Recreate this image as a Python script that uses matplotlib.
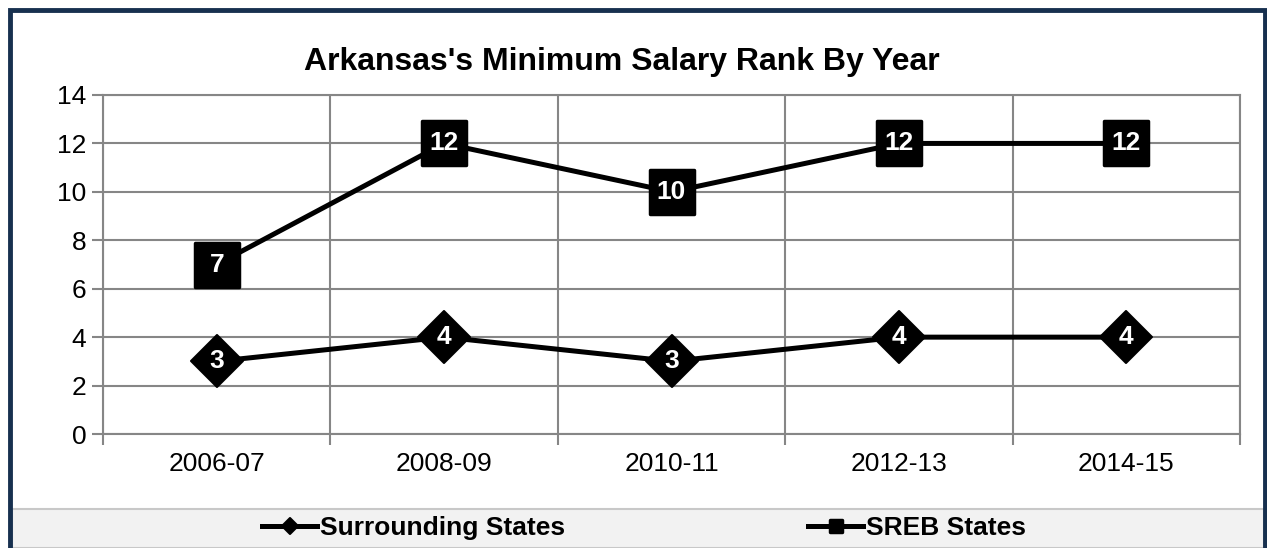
import matplotlib
matplotlib.use("Agg")
import matplotlib.pyplot as plt
from matplotlib.markers import MarkerStyle
from matplotlib.patches import Rectangle
from matplotlib.ticker import FixedLocator

plt.rcParams['font.family'] = ['Liberation Sans', 'DejaVu Sans']

years = ["2006-07", "2008-09", "2010-11", "2012-13", "2014-15"]
surrounding = [3, 4, 3, 4, 4]
sreb = [7, 12, 10, 12, 12]
yticks = [0, 2, 4, 6, 8, 10, 12, 14]

grid_c = '#868686'
navy = '#17304f'

fig = plt.figure(figsize=(12.67, 5.48), dpi=100)
ax = fig.add_axes([103 / 1267, 1 - 434 / 548, (1240 - 103) / 1267, (434 - 95) / 548])

x = list(range(len(years)))
diamond = MarkerStyle('D', joinstyle='round')
square = MarkerStyle('s', joinstyle='round')
ax.plot(x, surrounding, color='black', lw=3.6, marker=diamond, ms=26,
        mfc='black', mec='black', mew=1.5, label='Surrounding States', zorder=3)
ax.plot(x, sreb, color='black', lw=3.6, marker=square, ms=31,
        mfc='black', mec='black', mew=2.5, label='SREB States', zorder=3)

for xi, v in zip(x, surrounding):
    ax.text(xi, v, str(v), color='white', fontsize=19, fontweight='bold',
            ha='center', va='center', zorder=4)
for xi, v in zip(x, sreb):
    ax.text(xi, v, str(v), color='white', fontsize=19, fontweight='bold',
            ha='center', va='center', zorder=4)

ax.set_xlim(-0.5, len(years) - 0.5)
ax.set_ylim(0, 14)
ax.set_yticks(yticks)
ax.set_xticks(x)
ax.set_xticklabels(years)
ax.xaxis.set_minor_locator(FixedLocator([i - 0.5 for i in range(len(years) + 1)]))
ax.tick_params(axis='x', which='major', length=0, labelsize=19, pad=13)
ax.tick_params(axis='x', which='minor', length=8, width=1.5, color=grid_c, direction='out')
ax.tick_params(axis='y', length=8, width=1.5, color=grid_c, labelsize=19, pad=4)
ax.grid(True, axis='y', which='major', color=grid_c, lw=1.5)
ax.grid(True, axis='x', which='minor', color=grid_c, lw=1.5)
ax.set_axisbelow(True)
for s in ax.spines.values():
    s.set_color(grid_c)
    s.set_linewidth(1.5)

fig.text(622 / 1267, 1 - 62 / 548, "Arkansas's Minimum Salary Rank By Year",
         ha='center', va='center', fontsize=23, fontweight='bold')

# legend band and outer border
fig.patches.append(Rectangle((12 / 1267, 0), (1264 - 12) / 1267, 1 - 509 / 548,
                             transform=fig.transFigure, facecolor='#f2f2f2',
                             edgecolor='#c8c8c8', lw=1.5, zorder=0))
fig.patches.append(Rectangle((10 / 1267, -0.05), (1265 - 10) / 1267, 1.05 - 10 / 548,
                             transform=fig.transFigure, facecolor='none',
                             edgecolor=navy, lw=3.5, zorder=5))

h, l = ax.get_legend_handles_labels()
leg = fig.legend(h, l, loc='center', bbox_to_anchor=(644 / 1267, 1 - 528 / 548),
                 ncol=2, frameon=False, markerscale=0.3, handlelength=2.1,
                 handletextpad=0.1, columnspacing=9.2,
                 prop={'size': 19, 'weight': 'bold'})

fig.savefig('out.png', dpi=100)
